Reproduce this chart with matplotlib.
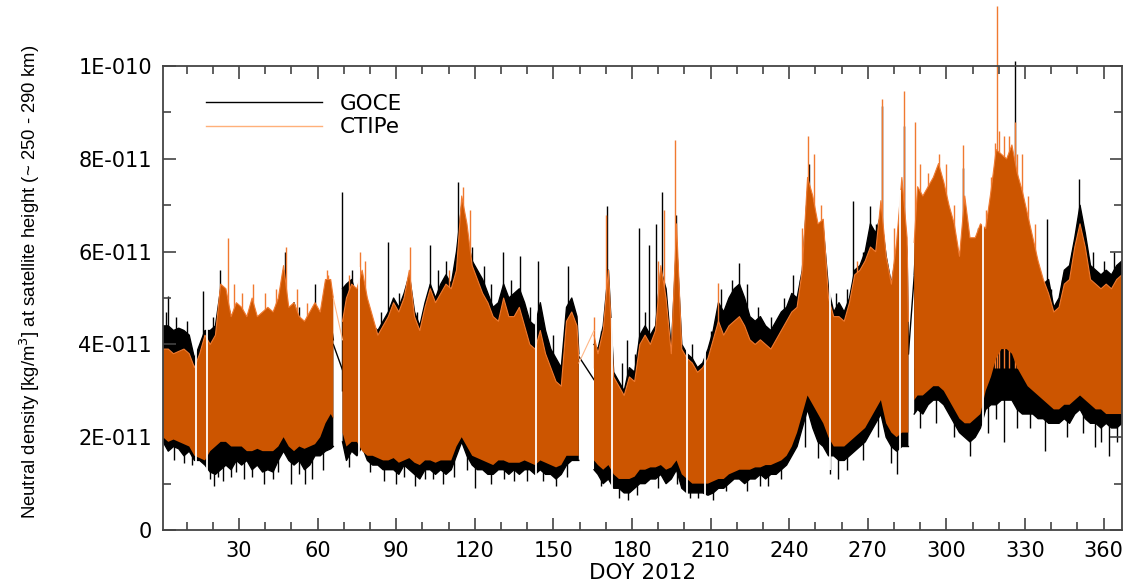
import numpy as np
import matplotlib
matplotlib.use("Agg")
import matplotlib.pyplot as plt
from matplotlib.ticker import MultipleLocator
from matplotlib.lines import Line2D

nan = np.nan

# sampling days (DOY 2012); nan rows mark the longer data gaps
doy = ([1, 3, 5, 7, 9, 11, 13, 15, 17, 19, 21, 23, 25, 27, 29, 31, 33, 35, 37, 39, 41,
        43, 45, 47, 49, 51, 53, 55, 57, 59, 61, 63, 65, 66, 67.5]
       + [69.5] + list(range(71, 160, 2)) + [159.7, 162.5]
       + [165.5] + list(range(167, 286, 2)) + [285.5, 286.6]
       + [287.7] + list(range(289, 368, 2)))

# envelopes of the orbit-scale oscillation, units of 1E-11 kg/m^3
goce_hi = [4.4, 4.4, 4.3, 4.35, 4.3, 4.2, 3.7, 4.0, 4.3, 4.3, 4.4, 5.2, 5.0, 4.6, 4.7, 4.6, 4.5,
           4.7, 4.5, 4.4, 4.6, 4.4, 4.7, 5.6, 4.6, 4.9, 4.5, 4.3, 4.5, 4.6, 4.4, 4.6, 4.5, 4.1, nan,
           5.2, 5.3, 5.4, 5.0, 4.9, 4.7, 4.4, 4.3, 4.5, 4.7, 5.0, 4.8, 5.1, 5.5, 4.7, 4.4, 4.9, 5.3,
           5.0, 5.3, 5.5, 5.3, 6.0, 7.0, 6.3, 5.8, 5.6, 5.4, 5.1, 4.8, 4.9, 5.3, 5.0, 5.1, 5.2, 4.9,
           4.5, 4.4, 4.9, 4.3, 3.9, 3.7, 3.5, 4.8, 5.0, 4.6, 3.8, nan,
           4.0, 3.9, 4.4, 5.6, 3.4, 3.2, 3.0, 3.5, 3.4, 4.2, 4.4, 4.2, 4.4, 5.6, 5.2, 3.9, 6.2, 4.0,
           3.8, 3.7, 3.5, 3.6, 3.9, 4.3, 4.9, 4.7, 5.0, 5.2, 5.3, 5.0, 4.6, 4.5, 4.6, 4.4, 4.3, 4.5,
           4.7, 4.8, 5.1, 5.0, 5.6, 7.3, 7.0, 6.3, 6.5, 5.2, 4.7, 4.9, 4.7, 5.0, 5.6, 5.7, 6.0, 6.6,
           6.4, 6.8, 5.9, 5.3, 6.0, 7.0, 6.0, 3.8, nan,
           5.5, 7.0, 6.6, 6.8, 7.0, 7.1, 6.9, 6.6, 6.3, 5.6, 6.4, 5.9, 5.8, 6.2, 5.9, 6.4, 7.0, 7.1,
           7.0, 7.3, 6.9, 6.6, 6.2, 5.9, 5.5, 5.3, 5.4, 4.8, 5.0, 5.6, 5.7, 6.3, 7.0, 6.4, 5.7, 5.6,
           5.5, 5.6, 5.5, 5.7, 5.8]
goce_lo = [1.9, 1.7, 1.8, 1.75, 1.6, 1.7, 1.5, 1.5, 1.4, 1.25, 1.2, 1.3, 1.4, 1.3, 1.5, 1.4, 1.5,
           1.3, 1.4, 1.25, 1.3, 1.25, 1.5, 1.7, 1.5, 1.4, 1.5, 1.3, 1.4, 1.6, 1.6, 1.7, 1.75, 1.8, nan,
           1.9, 1.5, 1.7, 1.6, 1.8, 1.5, 1.4, 1.4, 1.3, 1.3, 1.3, 1.2, 1.4, 1.3, 1.2, 1.1, 1.3, 1.3,
           1.2, 1.3, 1.2, 1.3, 1.6, 1.9, 1.6, 1.4, 1.3, 1.3, 1.2, 1.2, 1.3, 1.3, 1.2, 1.3, 1.2, 1.3,
           1.3, 1.2, 1.3, 1.2, 1.2, 1.1, 1.2, 1.4, 1.5, 1.5, 1.5, nan,
           1.3, 1.2, 1.0, 1.1, 0.9, 0.9, 0.8, 0.8, 0.9, 1.0, 1.0, 1.1, 1.1, 1.2, 1.0, 1.1, 1.3, 0.9,
           0.8, 0.8, 0.8, 0.8, 0.75, 0.8, 0.9, 0.9, 1.0, 1.1, 1.1, 1.0, 1.1, 1.1, 1.2, 1.1, 1.2, 1.2,
           1.3, 1.4, 1.6, 1.8, 2.2, 2.6, 2.2, 1.9, 1.8, 1.6, 1.6, 1.5, 1.5, 1.6, 1.7, 1.8, 1.9, 2.1,
           2.3, 2.5, 2.0, 1.8, 1.7, 1.8, 1.8, 1.8, nan,
           2.5, 2.6, 2.5, 2.7, 2.8, 2.8, 2.7, 2.5, 2.3, 2.1, 2.0, 1.9, 2.0, 2.2, 2.6, 2.7, 2.7, 2.8,
           2.8, 2.8, 2.6, 2.5, 2.5, 2.5, 2.4, 2.4, 2.3, 2.3, 2.3, 2.4, 2.3, 2.5, 2.6, 2.4, 2.3, 2.3,
           2.2, 2.3, 2.2, 2.2, 2.3]
ctipe_hi = [3.9, 3.9, 3.8, 3.85, 3.9, 3.8, 3.5, 3.8, 4.2, 4.0, 4.2, 5.3, 5.2, 4.6, 4.9, 4.8, 4.6,
            5.0, 4.6, 4.7, 4.8, 4.7, 5.0, 5.7, 4.8, 4.9, 4.6, 4.5, 4.7, 4.9, 4.7, 5.4, 5.4, 5.0, nan,
            4.5, 5.0, 5.3, 5.2, 5.6, 5.0, 4.6, 4.2, 4.4, 4.6, 4.9, 4.7, 5.0, 5.6, 4.6, 4.3, 4.8, 5.2,
            4.9, 5.1, 5.3, 5.2, 5.6, 7.2, 6.6, 5.7, 5.4, 5.1, 4.9, 4.6, 4.5, 5.0, 4.6, 4.6, 4.8, 4.4,
            4.0, 3.9, 4.3, 3.8, 3.5, 3.2, 3.1, 4.5, 4.7, 4.4, 3.7, nan,
            4.2, 3.8, 4.3, 5.6, 3.3, 3.1, 2.9, 3.3, 3.2, 4.0, 4.2, 4.0, 4.3, 5.7, 5.0, 3.8, 6.6, 3.9,
            3.7, 3.6, 3.4, 3.5, 3.7, 4.1, 4.5, 4.2, 4.4, 4.5, 4.6, 4.4, 4.1, 4.0, 4.1, 4.0, 3.9, 4.1,
            4.3, 4.5, 4.7, 4.8, 5.6, 7.6, 7.2, 6.6, 6.7, 5.0, 4.6, 4.6, 4.5, 4.9, 5.5, 5.6, 5.8, 6.1,
            6.0, 7.1, 5.9, 5.3, 6.2, 7.6, 6.3, 4.5, nan,
            6.2, 7.4, 7.2, 7.4, 7.6, 7.9, 7.5, 7.0, 6.6, 5.9, 7.2, 6.3, 6.3, 6.6, 6.5, 7.3, 8.2, 8.1,
            8.0, 8.3, 7.7, 7.3, 6.8, 6.3, 5.8, 5.4, 5.1, 4.7, 4.8, 5.3, 5.4, 6.1, 6.6, 6.1, 5.4, 5.3,
            5.2, 5.3, 5.2, 5.4, 5.5]
ctipe_lo = [2.0, 1.9, 1.95, 1.9, 1.85, 1.8, 1.6, 1.55, 1.5, 1.7, 1.8, 1.9, 1.9, 1.8, 1.8, 1.8, 1.7,
            1.7, 1.75, 1.7, 1.7, 1.7, 1.8, 2.0, 1.8, 1.7, 1.8, 1.75, 1.8, 1.85, 2.0, 2.3, 2.5, 2.4, nan,
            2.1, 1.8, 1.9, 1.9, 1.7, 1.6, 1.6, 1.55, 1.5, 1.5, 1.55, 1.45, 1.5, 1.55, 1.45, 1.4, 1.5,
            1.5, 1.45, 1.5, 1.5, 1.5, 1.8, 2.0, 1.8, 1.6, 1.55, 1.5, 1.45, 1.4, 1.5, 1.5, 1.45, 1.45,
            1.45, 1.5, 1.45, 1.4, 1.5, 1.45, 1.4, 1.35, 1.4, 1.6, 1.6, 1.6, 1.6, nan,
            1.5, 1.4, 1.3, 1.4, 1.2, 1.1, 1.1, 1.1, 1.15, 1.3, 1.3, 1.35, 1.35, 1.4, 1.3, 1.35, 1.5,
            1.2, 1.1, 1.0, 1.0, 1.0, 1.0, 1.05, 1.1, 1.1, 1.2, 1.25, 1.3, 1.3, 1.3, 1.35, 1.35, 1.4,
            1.4, 1.45, 1.5, 1.6, 1.8, 2.1, 2.5, 2.9, 2.7, 2.5, 2.3, 2.0, 1.8, 1.8, 1.8, 1.9, 2.0, 2.1,
            2.2, 2.4, 2.6, 2.8, 2.3, 2.1, 2.0, 2.1, 2.1, 2.1, nan,
            2.8, 2.9, 2.9, 3.0, 3.1, 3.1, 3.0, 2.8, 2.6, 2.4, 2.3, 2.3, 2.4, 2.5, 3.0, 3.3, 3.7, 3.9,
            3.9, 3.8, 3.5, 3.3, 3.1, 3.0, 2.9, 2.8, 2.7, 2.6, 2.6, 2.7, 2.7, 2.8, 2.9, 2.8, 2.7, 2.6,
            2.6, 2.5, 2.5, 2.5, 2.5]

# short spikes above the GOCE envelope (day, value)
goce_spike_day = [2.0, 3.0, 6.0, 10.0, 16.2, 20.0, 22.7, 29.0, 47.5, 53.0, 59.0, 65.0, 69.4, 73.0,
                  78.0, 84.0, 87.0, 91.0, 98.0, 102.8, 106.0, 109.0, 113.6, 119.0, 123.5, 126.0,
                  130.8, 134.0, 137.3, 141.0, 144.3, 150.0, 155.5, 168.0, 170.3, 176.0, 178.0,
                  181.0, 182.6, 185.0, 186.4, 189.0, 191.4, 196.8, 203.0, 210.0, 214.0, 218.0,
                  221.0, 224.0, 228.0, 233.0, 238.0, 241.5, 244.0, 247.5, 258.0, 262.0, 264.4,
                  268.0, 271.0, 273.0, 275.5, 283.8, 306.5, 311.0, 312.0, 326.0, 338.3, 340.0,
                  344.0, 348.0, 350.6, 356.0, 360.0, 364.0]
goce_spike_val = [4.7, 5.05, 4.6, 4.5, 5.15, 4.6, 5.6, 4.9, 6.0, 4.8, 5.3, 4.9, 7.28, 5.6,
                  5.0, 4.7, 6.2, 5.1, 4.7, 6.15, 5.6, 5.8, 7.5, 6.1, 5.7, 5.3,
                  6.0, 5.4, 5.9, 4.8, 5.8, 4.2, 5.7, 4.3, 6.98, 3.6, 4.1,
                  3.8, 6.5, 4.7, 6.15, 6.6, 7.28, 6.8, 4.0, 4.3, 5.2, 5.4,
                  5.76, 5.3, 4.8, 4.6, 5.0, 5.5, 5.4, 7.9, 5.1, 5.2, 7.1,
                  6.0, 6.98, 6.6, 9.14, 8.7, 7.8, 6.1, 6.5, 10.1, 6.7, 5.2,
                  5.4, 6.0, 7.56, 6.0, 5.8, 6.0]
# short dips below the GOCE envelope
goce_dip_day = [5.0, 9.0, 12.0, 19.0, 20.5, 22.0, 24.0, 27.0, 29.0, 32.0, 35.0, 39.5, 43.0, 45.0,
                50.0, 53.0, 55.0, 58.0, 62.0, 72.0, 80.0, 85.5, 90.0, 93.0, 97.0, 101.0, 104.0,
                108.0, 112.0, 117.0, 120.0, 126.0, 131.0, 135.0, 140.0, 146.0, 151.0, 155.0,
                168.0, 175.0, 178.5, 182.0, 190.0, 197.0, 202.0, 205.0, 211.0, 216.0, 224.0,
                229.0, 232.0, 237.0, 246.0, 251.0, 255.5, 258.5, 262.0, 268.0, 274.0, 279.0,
                281.0, 290.0, 296.0, 303.0, 309.0, 316.0, 319.0, 322.0, 327.0, 332.0, 337.6,
                346.0, 352.0, 356.6, 359.0, 362.0, 365.0]
goce_dip_val = [1.5, 1.45, 1.4, 1.1, 0.95, 1.15, 1.05, 1.15, 1.25, 1.1, 1.15, 1.0, 1.1, 1.25,
                1.0, 1.2, 1.0, 1.1, 1.3, 1.35, 1.25, 1.05, 1.0, 1.15, 0.95, 1.1, 1.1,
                1.0, 1.15, 1.3, 0.9, 1.0, 1.1, 1.05, 1.05, 1.05, 0.95, 1.15,
                0.95, 0.7, 0.65, 0.75, 0.9, 1.0, 0.7, 0.7, 0.65, 0.85, 0.85,
                0.95, 0.95, 1.1, 1.8, 1.55, 1.2, 1.1, 1.3, 1.5, 2.0, 1.45,
                1.2, 2.2, 2.3, 2.0, 1.6, 2.1, 2.4, 1.9, 2.2, 2.2, 1.7,
                2.0, 2.1, 1.8, 1.9, 1.6, 1.9]
# short spikes above the CTIPe envelope
ctipe_spike_day = [25.7, 28.0, 31.0, 35.4, 40.0, 44.0, 47.9, 52.0, 56.0, 63.5, 64.0, 72.0, 76.0,
                   78.0, 95.2, 110.0, 115.5, 118.0, 165.6, 170.0, 190.0, 192.2, 196.5, 212.8,
                   245.0, 247.0, 249.5, 252.0, 266.0, 275.4, 280.0, 283.8, 288.0, 290.0, 293.0,
                   297.0, 300.0, 303.0, 306.5, 315.0, 317.0, 318.5, 319.2, 320.0, 322.0, 324.0,
                   326.0, 327.0, 329.0, 331.0, 334.0]
ctipe_spike_val = [6.3, 5.3, 5.1, 5.3, 5.1, 5.2, 6.1, 5.2, 4.9, 5.6, 5.5, 5.5, 6.0,
                   5.8, 6.1, 5.6, 7.4, 6.9, 4.6, 6.8, 5.8, 6.9, 8.4, 5.33,
                   6.5, 8.5, 8.1, 7.0, 5.8, 9.3, 6.5, 9.47, 8.8, 7.9, 7.7,
                   8.1, 7.9, 7.0, 8.3, 6.9, 7.6, 8.35, 11.3, 8.6, 8.5, 8.5,
                   8.8, 8.1, 8.1, 7.2, 6.6]

# straight lines drawn across the long gaps
goce_bridge_day = [(66, 69.5), (159.7, 165.5), (285.5, 287.7)]
goce_bridge_val = [(4.0, 3.45), (3.74, 3.24), (3.8, 5.47)]
ctipe_bridge_day = [(66, 69.5), (159.7, 165.5)]
ctipe_bridge_val = [(5.0, 4.1), (3.6, 4.3)]

# short data gaps
gap_days = [13.6, 17.7, 75.8, 143.5, 172.2, 200.8, 207.7, 255.6, 282.2, 313.8]

ORANGE = "#CC5500"
ORANGE_LIGHT = "#F07A30"

x = np.array(doy, dtype=float)
gh, gl = np.array(goce_hi), np.array(goce_lo)
ch, cl = np.array(ctipe_hi), np.array(ctipe_lo)

fig = plt.figure(figsize=(11.26, 5.85), dpi=100)
ax = fig.add_axes([0.1448, 0.094, 0.8516, 0.793])

# GOCE (black) underneath
ax.fill_between(x, gl, gh, color="black", lw=0, zorder=1)
ax.plot(x, gh, color="black", lw=1.0, zorder=1.1)
ax.plot(x, gl, color="black", lw=1.0, zorder=1.1)
ax.vlines(goce_spike_day, 3.0, goce_spike_val, color="black", lw=1.0, clip_on=False, zorder=1.2)
ax.vlines(goce_dip_day, goce_dip_val, 3.0, color="black", lw=1.0, zorder=1.2)
for (d0, d1), (v0, v1) in zip(goce_bridge_day, goce_bridge_val):
    ax.plot([d0, d1], [v0, v1], color="black", lw=1.0, zorder=1.2)

# CTIPe (orange) on top
ax.vlines(ctipe_spike_day, 3.5, ctipe_spike_val, color=ORANGE_LIGHT, lw=1.0, clip_on=False,
          zorder=1.5)
ax.fill_between(x, cl, ch, color=ORANGE, lw=0, zorder=2)
ax.plot(x, ch, color=ORANGE_LIGHT, lw=0.8, zorder=2.1)
for (d0, d1), (v0, v1) in zip(ctipe_bridge_day, ctipe_bridge_val):
    ax.plot([d0, d1], [v0, v1], color="#FFB888", lw=0.8, zorder=2.1)

# white gaps
top = np.interp(gap_days, x, np.fmax(gh, ch))
bot = np.interp(gap_days, x, np.fmin(gl, cl))
ax.vlines(gap_days, bot - 0.3, top + 0.3, color="white", lw=1.3, zorder=2.5)

ax.set_xlim(1, 367)
ax.set_ylim(0, 10)
ax.set_xticks(range(30, 361, 30))
ax.set_xticklabels([str(v) for v in range(30, 361, 30)])
ax.xaxis.set_minor_locator(MultipleLocator(10))
ax.set_yticks([0, 2, 4, 6, 8, 10])
ax.set_yticklabels(["0", "2E-011", "4E-011", "6E-011", "8E-011", "1E-010"])
ax.yaxis.set_minor_locator(MultipleLocator(1))

ax.tick_params(which="both", direction="in", top=True, right=True, labelsize=15,
               color="#444444", width=1.2)
ax.tick_params(which="major", length=9, pad=8)
ax.tick_params(which="minor", length=6)
for s in ax.spines.values():
    s.set_color("#444444")
    s.set_linewidth(1.3)
    s.set_zorder(3)

ax.set_xlabel("DOY 2012", fontsize=15.5, labelpad=1)
ax.set_ylabel("Neutral density [kg/m$^3$] at satellite height (~ 250 - 290 km)",
              fontsize=13.3, family=["Liberation Sans Narrow", "Liberation Sans", "DejaVu Sans"])
ax.yaxis.set_label_coords(-0.126, 0.535)

handles = [Line2D([], [], color="black", lw=1.0),
           Line2D([], [], color="#FFB07A", lw=1.0)]
ax.legend(handles, ["GOCE", "CTIPe"], loc="upper left", bbox_to_anchor=(0.025, 0.982),
          frameon=False, fontsize=15.5, handlelength=5.35, handletextpad=0.85, labelspacing=0.15)

fig.savefig("out.png", dpi=100)
